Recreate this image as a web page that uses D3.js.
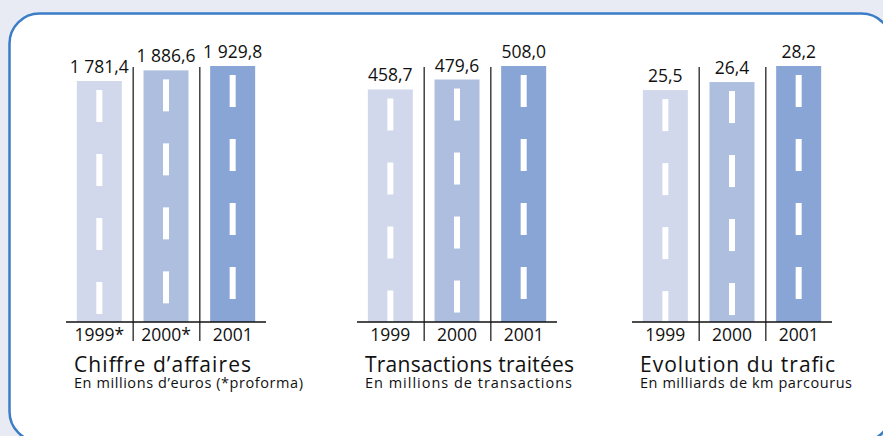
<!DOCTYPE html>
<html>
<head>
<meta charset="utf-8">
<script src="https://cdn.jsdelivr.net/npm/d3@7"></script>
<style>
  html, body { margin: 0; padding: 0; background: #e8ebf4; }
  svg { display: block; font-family: "Open Sans", "Noto Sans", sans-serif; }
</style>
</head>
<body>
<svg id="chart" width="883" height="436"></svg>
<script>
// data
const years1 = ["1999*", "2000*", "2001"];
const years = ["1999", "2000", "2001"];
const chiffre = [1781.4, 1886.6, 1929.8];
const transactions = [458.7, 479.6, 508.0];
const trafic = [25.5, 26.4, 28.2];
const titles = ["Chiffre d\u2019affaires", "Transactions trait\u00e9es", "Evolution du trafic"];
const subtitles = ["En millions d\u2019euros (*proforma)", "En millions de transactions", "En milliards de km parcourus"];
// the bars don't start from zero in the original
const floors = [-602, -30, -0.5];

const colors = ["#d1d8ec", "#adbedf", "#88a5d6"];
const fmt = v => d3.format(",.1f")(v).replace(",", " ").replace(".", ",");

const svg = d3.select("#chart");

// frame (runs off the bottom/right of the picture)
svg.append("rect")
  .attr("x", 9.5).attr("y", 13.5)
  .attr("width", 882).attr("height", 428)
  .attr("rx", 30).attr("ry", 30)
  .attr("fill", "#fff")
  .attr("stroke", "#3b7dc6")
  .attr("stroke-width", 2.5);

const panels = [
  {x0: 66, cats: years1, vals: chiffre},
  {x0: 357, cats: years, vals: transactions},
  {x0: 632, cats: years, vals: trafic}
];

// the original font is wider than ours, stretch the spacing a bit
const titleW = [177, 209, 195];
const subW = [229, 207, 212];

const baseY = 322, topY = 66, barW = 45;
const dashLen = 32, dashStep = 64, dashOff = 9, dashW = 6;

panels.forEach((p, i) => {
  const g = svg.append("g");

  const x = d3.scaleBand()
    .domain(p.cats)
    .range([p.x0, p.x0 + 200]);

  const y = d3.scaleLinear()
    .domain([floors[i], d3.max(p.vals)])
    .range([baseY, topY]);

  const data = p.cats.map((c, j) => ({cat: c, v: p.vals[j], j: j}));
  const bx = d => x(d.cat) + (x.bandwidth() - barW) / 2;

  // bars
  g.selectAll(".bar")
    .data(data)
    .join("rect")
    .attr("x", bx)
    .attr("y", d => y(d.v))
    .attr("width", barW)
    .attr("height", d => baseY - y(d.v))
    .attr("fill", d => colors[d.j]);

  // road dashes
  data.forEach(d => {
    const t = y(d.v);
    const starts = d3.range(t + dashOff, baseY, dashStep);
    g.selectAll(null)
      .data(starts)
      .join("rect")
      .attr("x", bx(d) + barW / 2 - dashW / 2)
      .attr("y", s => s)
      .attr("width", dashW)
      .attr("height", s => Math.min(dashLen, baseY - s))
      .attr("fill", "#fff");
  });

  // value labels
  g.selectAll(".val")
    .data(data)
    .join("text")
    .attr("x", d => bx(d) + barW / 2)
    .attr("y", d => y(d.v) - 8)
    .attr("text-anchor", "middle")
    .attr("font-size", 17.5)
    .attr("fill", "#111")
    .text(d => fmt(d.v));

  // separators
  g.selectAll(".sep")
    .data(p.cats.slice(1))
    .join("line")
    .attr("x1", d => x(d) + 0.5).attr("x2", d => x(d) + 0.5)
    .attr("y1", topY + 1).attr("y2", 341)
    .attr("stroke", "#111")
    .attr("stroke-width", 1.2);

  // baseline
  g.append("line")
    .attr("x1", p.x0).attr("x2", p.x0 + 200)
    .attr("y1", baseY).attr("y2", baseY)
    .attr("stroke", "#111")
    .attr("stroke-width", 1.5);

  // year labels
  g.selectAll(".yr")
    .data(p.cats)
    .join("text")
    .attr("x", d => x(d) + x.bandwidth() / 2)
    .attr("y", 341)
    .attr("text-anchor", "middle")
    .attr("font-size", 17.5)
    .attr("fill", "#111")
    .text(d => d);

  // titles
  g.append("text")
    .attr("x", p.x0 + 8)
    .attr("y", 371.5)
    .attr("font-size", 21)
    .attr("textLength", titleW[i])
    .attr("lengthAdjust", "spacing")
    .attr("fill", "#111")
    .text(titles[i]);

  g.append("text")
    .attr("x", p.x0 + 8)
    .attr("y", 388)
    .attr("font-size", 14.5)
    .attr("textLength", subW[i])
    .attr("lengthAdjust", "spacing")
    .attr("fill", "#111")
    .text(subtitles[i]);
});
</script>
</body>
</html>
